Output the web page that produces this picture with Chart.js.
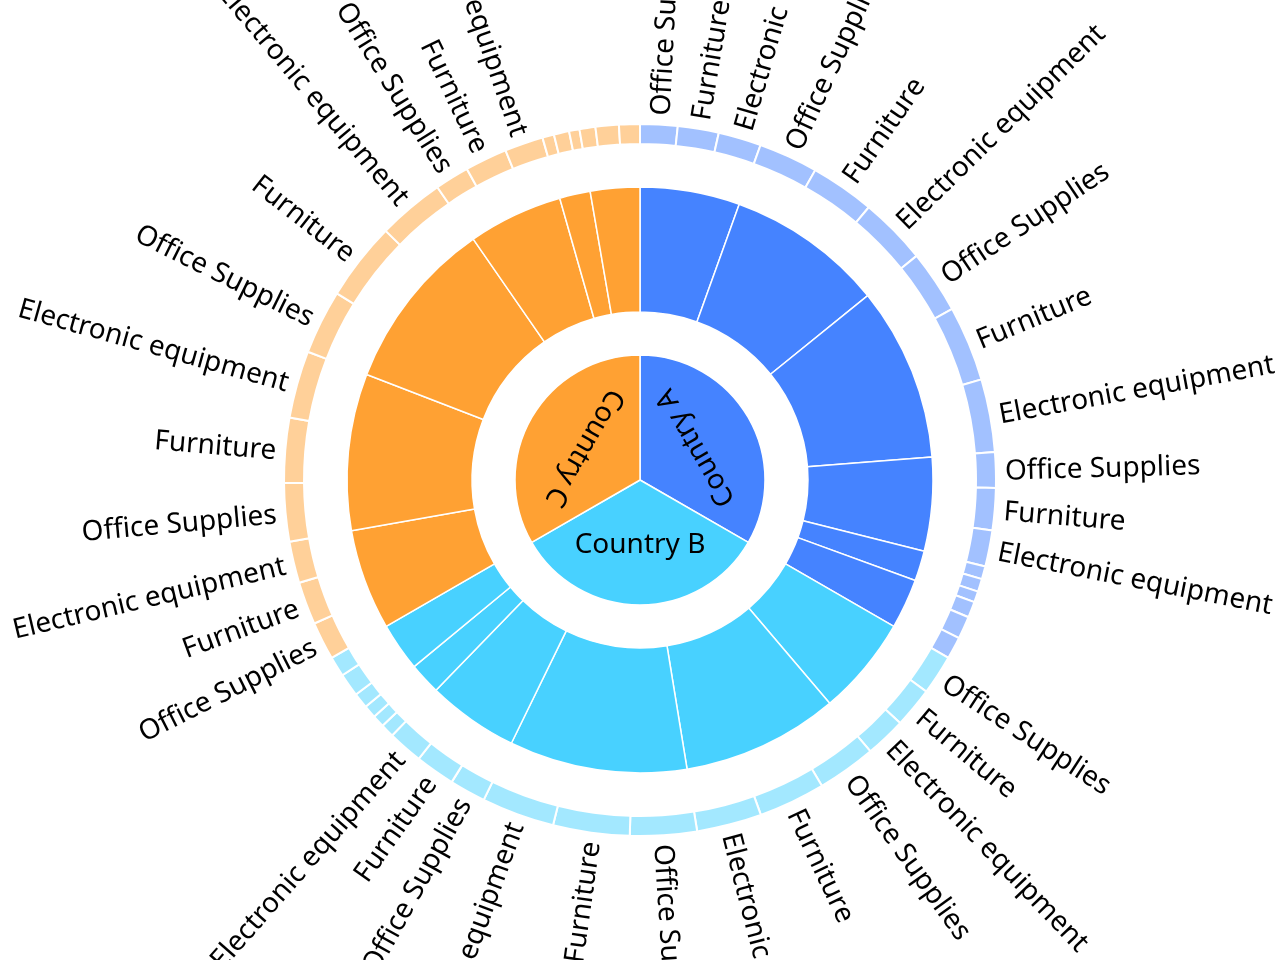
<!DOCTYPE html>
<html>
<head>
<meta charset="utf-8">
<script src="https://cdn.jsdelivr.net/npm/chart.js@4.4.1/dist/chart.umd.min.js"></script>
<style>
  html, body { margin: 0; padding: 0; background: #ffffff; }
  #wrap { width: 1280px; height: 960px; }
</style>
</head>
<body>
<div id="wrap"><canvas id="c" width="1280" height="960"></canvas></div>
<script>
// ---- data ----
const countries = ['Country A', 'Country B', 'Country C'];
const categories = ['Office Supplies', 'Furniture', 'Electronic equipment'];
// six sub-groups per country, each split into the three categories (in category order)
const valuesA = [6.1, 6.7, 7.0, 9.7, 10.5, 11.0, 10.3, 12.3, 11.9, 5.8, 6.9, 5.9, 2.1, 2.1, 1.8, 2.6, 3.7, 3.6];
const valuesB = [6.5, 6.6, 6.6, 9.6, 10.9, 10.6, 10.9, 12.5, 11.9, 5.9, 6.5, 5.7, 2.2, 2.0, 2.1, 2.5, 3.8, 3.3];
const valuesC = [6.2, 7.0, 6.8, 9.5, 10.6, 11.0, 10.5, 12.8, 10.9, 5.6, 6.9, 6.3, 1.9, 2.5, 1.7, 2.6, 3.8, 3.4];

// ---- styles ----
const baseRGB = ['22,100,255', '26,198,255', '255,138,0'];
const innerAlpha = 0.8;
const outerAlpha = 0.4;
const outerFontSize = 28;
const innerFontSize = 28;

// ---- build rings from data ----
const countryValues = [valuesA, valuesB, valuesC];
const outerData = [], outerLabels = [], outerColors = [];
const midData = [], midColors = [];
const innerData = [], innerColors = [];
countryValues.forEach((vals, ci) => {
  let countryTotal = 0;
  for (let g = 0; g < vals.length; g += 3) {
    let groupTotal = 0;
    for (let k = 0; k < 3; k++) {
      outerData.push(vals[g + k]);
      outerLabels.push(categories[k]);
      outerColors.push('rgba(' + baseRGB[ci] + ',' + outerAlpha + ')');
      groupTotal += vals[g + k];
    }
    midData.push(groupTotal);
    midColors.push('rgba(' + baseRGB[ci] + ',' + innerAlpha + ')');
    countryTotal += groupTotal;
  }
  innerData.push(countryTotal);
  innerColors.push('rgba(' + baseRGB[ci] + ',' + innerAlpha + ')');
});

const spacer = (w) => ({ data: [1], backgroundColor: 'rgba(0,0,0,0)', borderWidth: 0, weight: w });

const labelPlugin = {
  id: 'sunburstLabels',
  afterDatasetsDraw(chart) {
    const ctx = chart.ctx;
    ctx.save();
    ctx.fillStyle = '#000000';
    ctx.textBaseline = 'alphabetic';
    // outer ring labels (radial)
    ctx.font = outerFontSize + 'px "Noto Sans", sans-serif';
    const oy = outerFontSize * 0.36;
    chart.getDatasetMeta(0).data.forEach((arc, i) => {
      const p = arc.getProps(['startAngle', 'endAngle', 'outerRadius', 'x', 'y'], true);
      const span = (p.endAngle - p.startAngle) * 180 / Math.PI;
      if (span < 4.5) return;
      const a = (p.startAngle + p.endAngle) / 2;
      const r = p.outerRadius + 9;
      const deg = (((a + Math.PI / 2) * 180 / Math.PI) % 360 + 360) % 360;
      ctx.save();
      ctx.translate(p.x + r * Math.cos(a), p.y + r * Math.sin(a));
      if (deg <= 180) { ctx.rotate(a); ctx.textAlign = 'left'; }
      else { ctx.rotate(a + Math.PI); ctx.textAlign = 'right'; }
      ctx.fillText(outerLabels[i], 0, oy);
      ctx.restore();
    });
    // inner ring labels (tangential)
    ctx.font = innerFontSize + 'px "Noto Sans", sans-serif';
    const iy = innerFontSize * 0.36;
    ctx.textAlign = 'center';
    chart.getDatasetMeta(4).data.forEach((arc, i) => {
      const p = arc.getProps(['startAngle', 'endAngle', 'outerRadius', 'innerRadius', 'x', 'y'], true);
      const a = (p.startAngle + p.endAngle) / 2;
      const r = (p.outerRadius + p.innerRadius) / 2;
      ctx.save();
      ctx.translate(p.x + r * Math.cos(a), p.y + r * Math.sin(a));
      ctx.rotate(a - Math.PI / 2);
      ctx.fillText(countries[i], 0, iy);
      ctx.restore();
    });
    ctx.restore();
  }
};

new Chart(document.getElementById('c'), {
  type: 'doughnut',
  data: {
    datasets: [
      { data: outerData, backgroundColor: outerColors, borderColor: '#ffffff', borderWidth: 2, weight: 20 },
      spacer(43),
      { data: midData, backgroundColor: midColors, borderColor: '#ffffff', borderWidth: 1.5, weight: 125 },
      spacer(43),
      { data: innerData, backgroundColor: innerColors, borderColor: '#ffffff', borderWidth: 1.5, weight: 125 }
    ]
  },
  options: {
    responsive: false,
    animation: false,
    events: [],
    cutout: 0,
    radius: 356,
    hoverOffset: 0,
    layout: { padding: 0 },
    plugins: { legend: { display: false }, tooltip: { enabled: false } }
  },
  plugins: [labelPlugin]
});
</script>
</body>
</html>
